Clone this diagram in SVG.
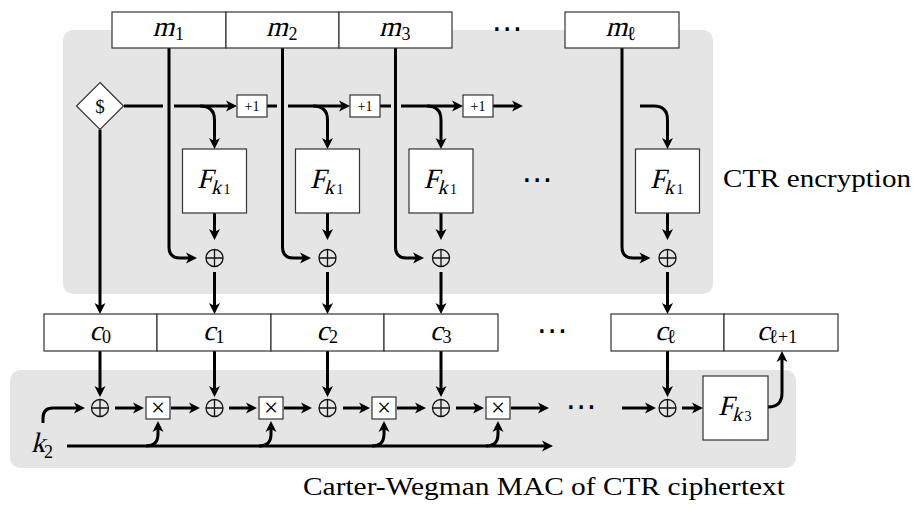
<svg xmlns="http://www.w3.org/2000/svg" width="918" height="508" viewBox="0 0 918 508">
<style>
.bg{fill:#e5e5e5}
.box{fill:#fff;stroke:#333;stroke-width:1.2}
.ln{fill:none;stroke:#000;stroke-width:3}
.ar{marker-end:url(#ah)}
.mi{font-family:"Liberation Serif",serif;font-size:28px;fill:#000}
.ks{font-family:"Liberation Serif",serif;font-size:20px;fill:#000}
.sb{font-family:"Liberation Serif",serif;font-size:18px;fill:#000}
.ell{font-family:"DejaVu Serif",serif;font-size:20px;fill:#000}
.s2{font-family:"Liberation Serif",serif;font-size:14px;fill:#000}
.lbl{font-family:"Liberation Serif","DejaVu Serif",serif;font-size:24.5px;fill:#000}
.xo{fill:none;stroke:#111;stroke-width:1.3}
.tm{font-family:"Liberation Serif",serif;font-size:25px;fill:#000}
.sm{font-family:"Liberation Serif","DejaVu Serif",serif;font-size:14px;fill:#000}
.dl{font-family:"Liberation Serif","DejaVu Serif",serif;font-size:19px;fill:#000}
.dots{font-family:"DejaVu Sans",sans-serif;font-size:31px;fill:#000}
</style>
<defs>
<marker id="ah" markerUnits="userSpaceOnUse" markerWidth="16" markerHeight="16" viewBox="-8 -8 16 16" refX="0" refY="0" orient="auto" overflow="visible">
<path d="M6,0 L-5,-5.5 L-2,0 L-5,5.5 Z" fill="#000"/>
</marker>
<g id="xor"><circle class="xo" cx="0" cy="0" r="8.5"/><path class="xo" d="M-8.5 0 H8.5 M0 -8.5 V8.5"/></g>
</defs>

<rect class="bg" x="63" y="30" width="650" height="264" rx="10"/>
<rect class="bg" x="10" y="370" width="786" height="98" rx="10"/>

<g id="connectors">
<path class="ln" d="M124 106 H163"/>
<path class="ln ar" d="M174 106 H231"/>
<path class="ln" d="M267 106 H277"/>
<path class="ln ar" d="M288 106 H344"/>
<path class="ln" d="M380 106 H391"/>
<path class="ln ar" d="M401 106 H457"/>
<path class="ln ar" d="M493 106 H517"/>
<path class="ln ar" d="M200 106 Q214.5 106 214.5 120 V143"/>
<path class="ln ar" d="M313 106 Q327.5 106 327.5 120 V143"/>
<path class="ln ar" d="M427 106 Q441 106 441 120 V143"/>
<path class="ln ar" d="M640 106 H654 Q667.5 106 667.5 120 V143"/>
<path class="ln ar" d="M169 48 V247 Q169 258 180 258 H191"/>
<path class="ln ar" d="M282.5 48 V247 Q282.5 258 293.5 258 H305"/>
<path class="ln ar" d="M395.5 48 V247 Q395.5 258 406.5 258 H418"/>
<path class="ln ar" d="M622 48 V247 Q622 258 633 258 H644.5"/>
<path class="ln ar" d="M214.5 213 V234"/>
<path class="ln ar" d="M327.5 213 V234"/>
<path class="ln ar" d="M441 213 V234"/>
<path class="ln ar" d="M667.5 213 V234"/>
<path class="ln ar" d="M214.5 272 V308"/>
<path class="ln ar" d="M327.5 272 V308"/>
<path class="ln ar" d="M441 272 V308"/>
<path class="ln ar" d="M667.5 272 V308"/>
<path class="ln ar" d="M100 129.5 V308"/>
<path class="ln ar" d="M100 351 V391"/>
<path class="ln ar" d="M214.5 351 V391"/>
<path class="ln ar" d="M327.5 351 V391"/>
<path class="ln ar" d="M441 351 V391"/>
<path class="ln ar" d="M667.5 351 V391"/>
<path class="ln ar" d="M43 423 V418 Q43 408 53 408 H79"/>
<path class="ln ar" d="M115 408 H138"/>
<path class="ln ar" d="M171 408 H194"/>
<path class="ln ar" d="M229 408 H251"/>
<path class="ln ar" d="M284 408 H306"/>
<path class="ln ar" d="M343 408 H364"/>
<path class="ln ar" d="M397 408 H420"/>
<path class="ln ar" d="M456 408 H478"/>
<path class="ln ar" d="M511 408 H543"/>
<path class="ln ar" d="M622 408 H650"/>
<path class="ln ar" d="M682 408 H697"/>
<path class="ln ar" d="M768 407 Q782 407 782 393 V357"/>
<path class="ln ar" d="M67 446 H547"/>
<path class="ln ar" d="M146 446 Q158 446 158 434 V427"/>
<path class="ln ar" d="M259 446 Q271 446 271 434 V427"/>
<path class="ln ar" d="M372 446 Q384 446 384 434 V427"/>
<path class="ln ar" d="M486 446 Q498 446 498 434 V427"/>
</g>

<g id="m1"><rect class="box" x="112" y="12" width="114" height="36"/><text class="mi" transform="translate(152.5,35.5) skewX(-14)">m</text><text class="sb" x="175" y="39.5">1</text></g>
<g id="m2"><rect class="box" x="226" y="12" width="113" height="36"/><text class="mi" transform="translate(266,35.5) skewX(-14)">m</text><text class="sb" x="288.5" y="39.5">2</text></g>
<g id="m3"><rect class="box" x="339" y="12" width="113" height="36"/><text class="mi" transform="translate(379,35.5) skewX(-14)">m</text><text class="sb" x="401.5" y="39.5">3</text></g>
<g id="mdots"><text class="dots" x="507" y="38.5" text-anchor="middle">⋯</text></g>
<g id="ml"><rect class="box" x="565" y="12" width="114" height="36"/><text class="mi" transform="translate(605.5,35.5) skewX(-14)">m</text><text class="ell" x="626.5" y="39.5">ℓ</text></g>

<g id="rand"><polygon class="box" points="100,82.5 123.5,106 100,129.5 76.5,106"/><text class="dl" x="100" y="112.5" text-anchor="middle">$</text></g>

<g id="inc1"><rect class="box" x="237" y="95" width="30" height="22"/><text class="sm" x="252" y="111" text-anchor="middle">+1</text></g>
<g id="inc2"><rect class="box" x="350" y="95" width="30" height="22"/><text class="sm" x="365" y="111" text-anchor="middle">+1</text></g>
<g id="inc3"><rect class="box" x="463" y="95" width="30" height="22"/><text class="sm" x="478" y="111" text-anchor="middle">+1</text></g>

<g id="F1"><rect class="box" x="182.5" y="149" width="64" height="64"/><text class="mi" transform="translate(197,188) skewX(-14)">F</text><text class="ks" transform="translate(211,193.5) skewX(-14)">k</text><text class="s2" x="223.5" y="194">1</text></g>
<g id="F2"><rect class="box" x="295.5" y="149" width="64" height="64"/><text class="mi" transform="translate(310,188) skewX(-14)">F</text><text class="ks" transform="translate(324,193.5) skewX(-14)">k</text><text class="s2" x="336.5" y="194">1</text></g>
<g id="F3"><rect class="box" x="409" y="149" width="64" height="64"/><text class="mi" transform="translate(423.5,188) skewX(-14)">F</text><text class="ks" transform="translate(437.5,193.5) skewX(-14)">k</text><text class="s2" x="450" y="194">1</text></g>
<g id="Fdots"><text class="dots" x="537" y="189.5" text-anchor="middle">⋯</text></g>
<g id="Fl"><rect class="box" x="635.5" y="149" width="64" height="64"/><text class="mi" transform="translate(650,188) skewX(-14)">F</text><text class="ks" transform="translate(664,193.5) skewX(-14)">k</text><text class="s2" x="676.5" y="194">1</text></g>

<g id="x1"><use href="#xor" x="214.5" y="258"/></g>
<g id="x2"><use href="#xor" x="327.5" y="258"/></g>
<g id="x3"><use href="#xor" x="441" y="258"/></g>
<g id="xl"><use href="#xor" x="667.5" y="258"/></g>

<g id="ctr-label"><text class="lbl" x="723" y="187" textLength="188" lengthAdjust="spacingAndGlyphs">CTR encryption</text></g>

<g id="c0"><rect class="box" x="44" y="314" width="113" height="37"/><text class="mi" transform="translate(89.5,340) skewX(-14)">c</text><text class="sb" x="102" y="342.5">0</text></g>
<g id="c1"><rect class="box" x="157" y="314" width="114" height="37"/><text class="mi" transform="translate(203,340) skewX(-14)">c</text><text class="sb" x="215.5" y="342.5">1</text></g>
<g id="c2"><rect class="box" x="271" y="314" width="113" height="37"/><text class="mi" transform="translate(316.5,340) skewX(-14)">c</text><text class="sb" x="329" y="342.5">2</text></g>
<g id="c3"><rect class="box" x="384" y="314" width="114" height="37"/><text class="mi" transform="translate(430,340) skewX(-14)">c</text><text class="sb" x="442.5" y="342.5">3</text></g>
<g id="cdots"><text class="dots" x="552" y="340.5" text-anchor="middle">⋯</text></g>
<g id="cl"><rect class="box" x="611" y="314" width="113" height="37"/><text class="mi" transform="translate(655,340) skewX(-14)">c</text><text class="ell" x="666.5" y="343">ℓ</text></g>
<g id="cl1"><rect class="box" x="724" y="314" width="114" height="37"/><text class="mi" transform="translate(757,340) skewX(-14)">c</text><text class="sb" x="768.5" y="343"><tspan font-family="DejaVu Serif" font-size="20">ℓ</tspan>+1</text></g>

<g id="a0"><use href="#xor" x="100" y="408"/></g>
<g id="a1"><use href="#xor" x="214.5" y="408"/></g>
<g id="a2"><use href="#xor" x="327.5" y="408"/></g>
<g id="a3"><use href="#xor" x="441" y="408"/></g>
<g id="al"><use href="#xor" x="667.5" y="408"/></g>

<g id="t1"><rect class="box" x="146" y="397" width="24" height="22"/><text class="tm" x="158" y="416" text-anchor="middle">×</text></g>
<g id="t2"><rect class="box" x="259" y="397" width="24" height="22"/><text class="tm" x="271" y="416" text-anchor="middle">×</text></g>
<g id="t3"><rect class="box" x="372" y="397" width="24" height="22"/><text class="tm" x="384" y="416" text-anchor="middle">×</text></g>
<g id="t4"><rect class="box" x="486" y="397" width="24" height="22"/><text class="tm" x="498" y="416" text-anchor="middle">×</text></g>
<g id="bdots"><text class="dots" x="581" y="416.5" text-anchor="middle">⋯</text></g>

<g id="F3k"><rect class="box" x="703" y="376" width="65" height="64"/><text class="mi" transform="translate(718,415) skewX(-14)">F</text><text class="ks" transform="translate(732,420.5) skewX(-14)">k</text><text class="s2" x="744.5" y="421">3</text></g>

<g id="k2"><text class="mi" transform="translate(31,452) skewX(-14)">k</text><text class="sb" x="44" y="457.5">2</text></g>

<g id="mac-label"><text class="lbl" x="303" y="495" textLength="482" lengthAdjust="spacingAndGlyphs">Carter-Wegman MAC of CTR ciphertext</text></g>
</svg>
